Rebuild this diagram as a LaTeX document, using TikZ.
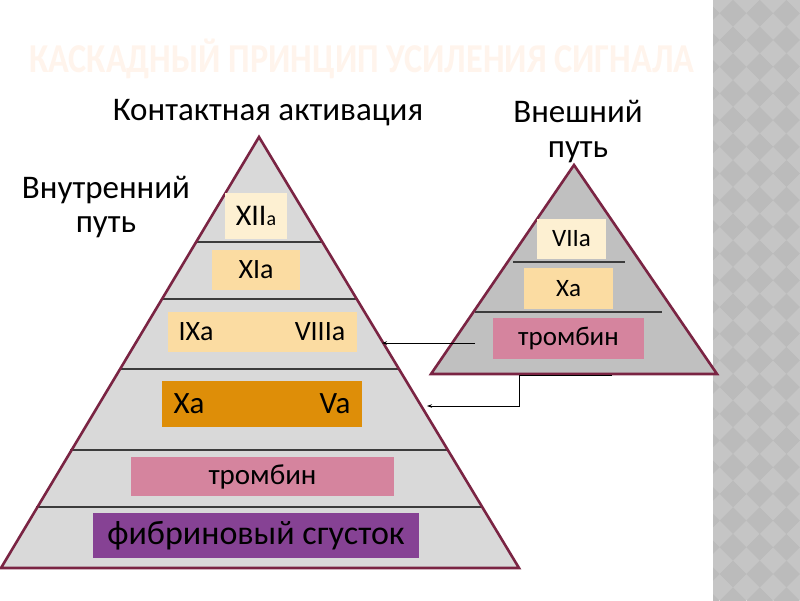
\documentclass[tikz,border=0pt]{standalone}
\usepackage{fontspec}
\setmainfont{Carlito}
\usetikzlibrary{arrows.meta}
\definecolor{edgered}{HTML}{7A2443}
\definecolor{lgray}{HTML}{D9D9D9}
\definecolor{mgray}{HTML}{C0C0C0}
\definecolor{cream}{HTML}{FDF0D2}
\definecolor{peach}{HTML}{FBDCA2}
\definecolor{dorange}{HTML}{DE8E08}
\definecolor{pinkc}{HTML}{D5849E}
\definecolor{purp}{HTML}{864294}
\definecolor{stripL}{HTML}{C5C5C5}
\definecolor{stripD}{HTML}{BBBBBB}
\definecolor{titlec}{HTML}{FFF4EC}
\definecolor{sepc}{HTML}{3C3C3C}
\tikzset{
  pyr/.style={draw=edgered, line width=2.6pt, line join=miter},
  sepline/.style={draw=sepc, line width=1.1pt},
  boxn/.style={inner sep=0pt, outer sep=0pt, text=black},
  lbl/.style={inner sep=0pt, text=black, font=\fontsize{33}{35}\selectfont},
  conn/.style={draw=black, line width=0.8pt},
  tip/.style={-{Stealth[length=5pt,width=3.5pt]}}
}
\begin{document}
\begin{tikzpicture}[x=1pt,y=-1pt]
\useasboundingbox (0,0) rectangle (800,600);
\fill[white] (0,0) rectangle (800,600);
% right strip with diamond pattern
\begin{scope}
\clip (713,0) rectangle (800,600);
\fill[stripL] (713,0) rectangle (800,600);
\foreach \i in {-1,...,4}{
  \foreach \j in {-1,...,23}{
    \fill[stripD] ({733+26.7*\i},{13.3+26.7*\j-13.35}) -- ({733+26.7*\i+13.35},{13.3+26.7*\j}) -- ({733+26.7*\i},{13.3+26.7*\j+13.35}) -- ({733+26.7*\i-13.35},{13.3+26.7*\j}) -- cycle;
  }
}
\end{scope}
% title
\node[inner sep=0pt, anchor=base, text=titlec, font=\fontsize{41}{43}\bfseries\selectfont] (title) at (362,72) {\scalebox{0.835}[1]{КАСКАДНЫЙ ПРИНЦИП УСИЛЕНИЯ СИГНАЛА}};
% left pyramid
\coordinate (LA) at (259,137);
\coordinate (LL) at (1,568);
\coordinate (LR) at (519,568);
\fill[lgray] (LA) -- (LR) -- (LL) -- cycle;
\draw[sepline] (195,242) -- (323,242);
\draw[sepline] (161,299) -- (357,299);
\draw[sepline] (119,369) -- (399,369);
\draw[sepline] (70,450) -- (448,450);
\draw[sepline] (36,507) -- (482,507);
\draw[pyr] (LA) -- (LR) -- (LL) -- cycle;
% right pyramid
\coordinate (RA) at (574,165);
\coordinate (RL) at (431,374);
\coordinate (RR) at (717,374);
\fill[mgray] (RA) -- (RR) -- (RL) -- cycle;
\draw[sepline] (513,262) -- (625,262);
\draw[sepline] (475,312) -- (662,312);
\draw[pyr] (RA) -- (RR) -- (RL) -- cycle;
% left boxes
\node[boxn, fill=cream, minimum width=62pt, minimum height=46pt] (b12) at (256,216) {\fontsize{30}{32}\selectfont XII\fontsize{20}{22}\selectfont a};
\node[boxn, fill=peach, minimum width=88pt, minimum height=40pt] (b11) at (256,270) {\fontsize{28}{30}\selectfont XIa};
\node[boxn, fill=peach, minimum width=189pt, minimum height=40pt] (b9) at (262.5,332) {};
\node[boxn, font=\fontsize{28}{30}\selectfont] (t9) at (196,332) {IXa};
\node[boxn, font=\fontsize{28}{30}\selectfont] (t8) at (320,332) {VIIIa};
\node[boxn, fill=dorange, minimum width=200pt, minimum height=46pt] (b10) at (262,404) {};
\node[boxn, font=\fontsize{31}{33}\selectfont] (t10) at (189,404) {Xa};
\node[boxn, font=\fontsize{31}{33}\selectfont] (t5) at (335,404) {Va};
\node[boxn, fill=pinkc, minimum width=263pt, minimum height=39pt, font=\fontsize{29}{31}\selectfont] (thr) at (262.5,476.5) {тромбин};
\node[boxn, fill=purp, minimum width=326pt, minimum height=45pt, font=\fontsize{34}{36}\selectfont] (fib) at (256,535.5) {фибриновый сгусток};
% right boxes
\node[boxn, fill=cream, minimum width=69pt, minimum height=40pt, font=\fontsize{25}{27}\selectfont] (r7) at (571.5,239) {VIIa};
\node[boxn, fill=peach, minimum width=89pt, minimum height=41pt, font=\fontsize{25}{27}\selectfont] (r10) at (568.5,288.5) {Xa};
\node[boxn, fill=pinkc, minimum width=151pt, minimum height=41pt, font=\fontsize{27}{29}\selectfont] (rthr) at (568.5,338.5) {тромбин};
% labels
\node[lbl, anchor=base] (kont) at (268,120) {Контактная активация};
\node[lbl, anchor=base] (vn1) at (106,198) {Внутренний};
\node[lbl, anchor=base] (vn2) at (106,232) {путь};
\node[lbl, anchor=base] (ex1) at (578,122) {Внешний};
\node[lbl, anchor=base] (ex2) at (578,157) {путь};
% connectors
\coordinate (c1s) at (475,343);
\coordinate (c1e) at (382,343);
\draw[conn, tip] (c1s) -- (c1e);
\coordinate (c2a) at (612,375.5);
\coordinate (c2b) at (519,375.5);
\coordinate (c2e) at (427,406);
\draw[conn, tip] (c2a) -- (c2b) |- (c2e);
\end{tikzpicture}
\end{document}
